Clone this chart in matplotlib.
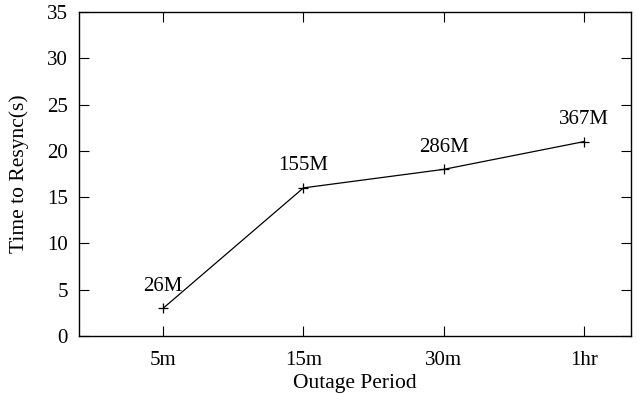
import matplotlib
matplotlib.use("Agg")
import matplotlib.pyplot as plt

periods = ["5m", "15m", "30m", "1hr"]
resync_time = [3, 16, 18, 21]
data_size = ["26M", "155M", "286M", "367M"]

plt.rcParams['font.family'] = ['Liberation Serif', 'DejaVu Serif']

fig = plt.figure(figsize=(6.37, 3.94), dpi=100)
ax = fig.add_axes([79/637, 1 - 336/394, (631-79)/637, (336-12)/394])

x = list(range(len(periods)))
ax.plot(x, resync_time, color='black', linewidth=0.9, marker='+', markersize=7.5, markeredgewidth=0.9)
for xi, yi, lab in zip(x, resync_time, data_size):
    ax.annotate(lab, (xi, yi), xytext=(0, 9), textcoords='offset points',
                ha='center', va='bottom', fontsize=15)

ax.set_xlim(-0.6, 3.335)
ax.set_ylim(0, 35)
ax.set_xticks(x)
ax.set_xticklabels(periods)
ax.set_yticks(range(0, 36, 5))
ax.tick_params(axis='both', direction='in', top=True, right=True, length=7.3, width=0.8, labelsize=15)
ax.tick_params(axis='x', pad=11)
ax.tick_params(axis='y', pad=8)
ax.set_xlabel("Outage Period", fontsize=15.5, labelpad=3)
ax.set_ylabel("Time to Resync(s)", fontsize=15.5, labelpad=13)
for s in ax.spines.values():
    s.set_linewidth(1.0)

fig.savefig("out.png", dpi=100)
